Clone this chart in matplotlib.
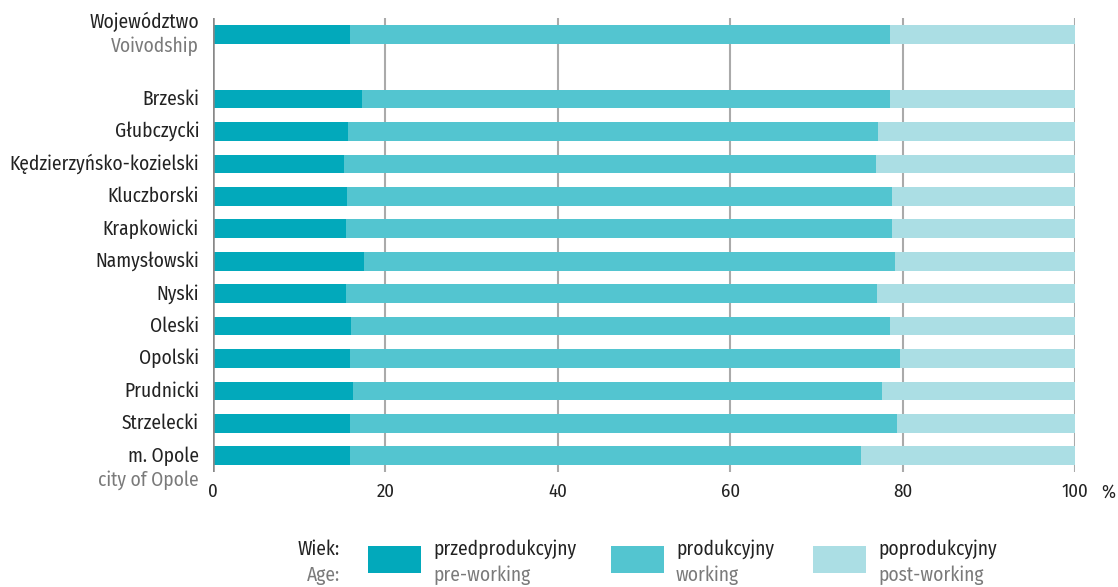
import matplotlib
matplotlib.use("Agg")
import matplotlib.pyplot as plt
from matplotlib.patches import Rectangle
from matplotlib import font_manager

fams = {f.name for f in font_manager.fontManager.ttflist}
FONT = "DejaVu Sans"
for cand in ["Fira Sans Condensed", "Fira Sans", "IBM Plex Sans Condensed", "Roboto Condensed",
             "Liberation Sans Narrow", "Open Sans"]:
    if cand in fams:
        FONT = cand
        break
plt.rcParams['font.family'] = [FONT, 'DejaVu Sans']

# ---- data ----
categories_pl = ["Województwo", "Brzeski", "Głubczycki", "Kędzierzyńsko-kozielski", "Kluczborski",
                 "Krapkowicki", "Namysłowski", "Nyski", "Oleski", "Opolski", "Prudnicki",
                 "Strzelecki", "m. Opole"]
categories_en = ["Voivodship", None, None, None, None, None, None, None, None, None, None, None,
                 "city of Opole"]
pre_working = [15.9, 17.3, 15.7, 15.2, 15.5, 15.4, 17.5, 15.4, 16.0, 15.9, 16.2, 15.9, 15.9]
working = [62.6, 61.2, 61.4, 61.7, 63.3, 63.4, 61.6, 61.6, 62.5, 63.8, 61.4, 63.5, 59.3]
post_working = [21.5, 21.5, 22.9, 23.1, 21.2, 21.2, 20.9, 23.0, 21.5, 20.3, 22.4, 20.6, 24.8]
series_pl = ["przedprodukcyjny", "produkcyjny", "poprodukcyjny"]
series_en = ["pre-working", "working", "post-working"]
xticks = [0, 20, 40, 60, 80, 100]

colors = ["#02a9bb", "#53c5d0", "#abdee4"]
DARK = "#222222"
GREY = "#7a7a7a"

W, H = 1118, 587
fig = plt.figure(figsize=(W / 100, H / 100), dpi=100)
renderer = fig.canvas.get_renderer()

# choose font size so the longest label spans about 191 px like the reference
probe = fig.text(0, 0, "Kędzierzyńsko-kozielski", fontsize=12)
wpx = probe.get_window_extent(renderer).width
probe.remove()
FS = 12 * 191.0 / wpx
FS = max(9.0, min(FS, 15.0))
TFS = FS * 0.97

ax = fig.add_axes([213 / W, 1 - 472 / H, (1075 - 213) / W, (472 - 18) / H])

positions = [0] + list(range(2, 2 + len(categories_pl) - 1))
bh = 0.58
left = [0.0] * len(positions)
for vals, c in zip([pre_working, working, post_working], colors):
    ax.barh(positions, vals, left=left, height=bh, color=c, zorder=3, linewidth=0)
    left = [l + v for l, v in zip(left, vals)]

ax.set_xlim(0, 100)
ax.set_ylim(13.5, -0.5)
for x in xticks[1:]:
    ax.axvline(x, color="#aaaaaa", lw=1.5, zorder=1)
ax.axvline(0, color="#888888", lw=1.8, zorder=4)
for s in ax.spines.values():
    s.set_visible(False)
ax.set_yticks([])
ax.set_xticks(xticks)
ax.set_xticklabels([str(t) for t in xticks], fontsize=TFS, color=DARK)
ax.tick_params(axis="x", length=0, pad=8)
fig.text(1108 / W, 1 - 493 / H, "%", fontsize=TFS, color=DARK, ha="center", va="center")

# category labels
lab_x = 199 / W
for i, (pos, pl, en) in enumerate(zip(positions, categories_pl, categories_en)):
    ycen = ax.transData.transform((0, pos))[1] / H
    if en is None:
        fig.text(lab_x, ycen, pl, fontsize=FS, color=DARK, ha="right", va="center")
    elif i == 0:
        fig.text(lab_x, ycen + 12.5 / H, pl, fontsize=FS, color=DARK, ha="right", va="center")
        fig.text(lab_x, ycen - 12.5 / H, en, fontsize=FS, color=GREY, ha="right", va="center")
    else:
        fig.text(lab_x, ycen, pl, fontsize=FS, color=DARK, ha="right", va="center")
        fig.text(lab_x, ycen - 24 / H, en, fontsize=FS, color=GREY, ha="right", va="center")

# legend
y1 = 1 - 549 / H
y2 = 1 - 575 / H
fig.text(340 / W, y1, "Wiek:", fontsize=FS, color=DARK, ha="right", va="center")
fig.text(340 / W, y2, "Age:", fontsize=FS, color=GREY, ha="right", va="center")
patch_x = [368, 611, 813]
for px, c, pl, en in zip(patch_x, colors, series_pl, series_en):
    fig.patches.append(Rectangle((px / W, 1 - 573 / H), 53 / W, 27 / H,
                                 transform=fig.transFigure, color=c, lw=0))
    fig.text((px + 65) / W, y1, pl, fontsize=FS, color=DARK, ha="left", va="center")
    fig.text((px + 65) / W, y2, en, fontsize=FS, color=GREY, ha="left", va="center")

fig.savefig("out.png", dpi=100)
